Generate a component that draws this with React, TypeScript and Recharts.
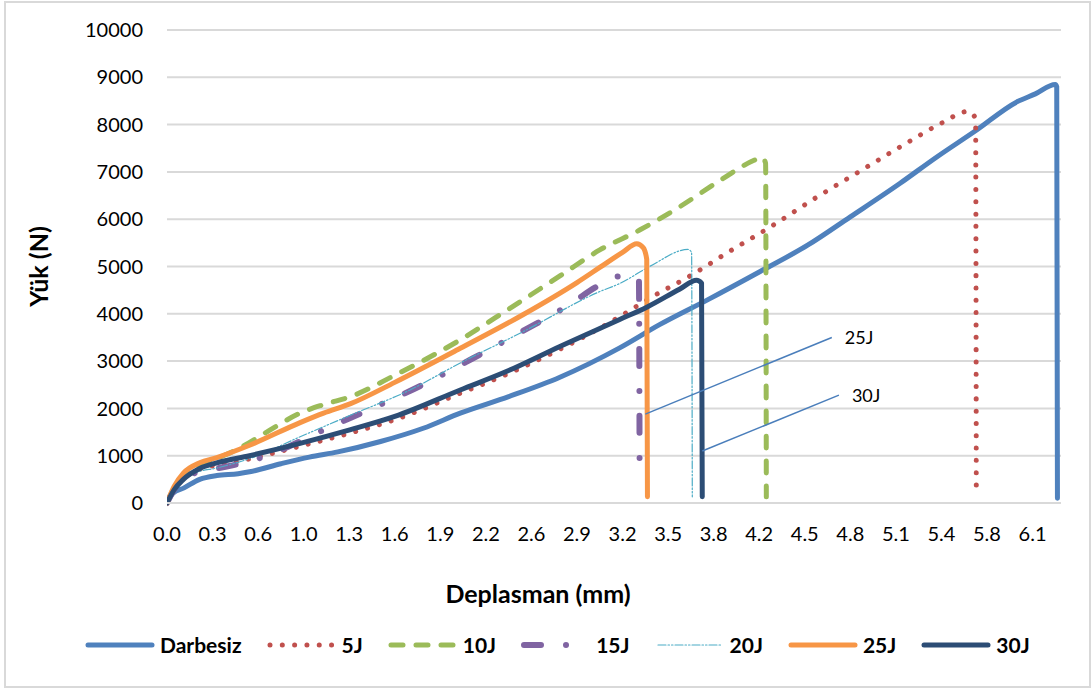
import React from "react";
import {
  LineChart, Line, XAxis, YAxis, CartesianGrid, ReferenceLine, ReferenceDot,
} from "recharts";

// Load-displacement readings [mm, N]
const darbesiz = [
  [0, 0], [0.04, 200], [0.12, 320], [0.23, 500], [0.35, 580], [0.5, 620], [0.58, 660],
  [0.8, 830], [1.0, 970], [1.2, 1080], [1.5, 1300], [1.8, 1580], [2.06, 1900],
  [2.4, 2250], [2.76, 2660], [3.18, 3280], [3.46, 3770], [3.8, 4300], [4.17, 4900],
  [4.5, 5450], [4.8, 6050], [5.15, 6760], [5.4, 7300], [5.68, 7870], [5.97, 8480],
  [6.1, 8650], [6.24, 8850], [6.25, 8800], [6.255, 100],
];
const j5 = [
  [0, 0], [0.05, 300], [0.1, 480], [0.2, 680], [0.3, 770], [0.5, 880], [0.7, 1020],
  [0.935, 1200], [1.29, 1480], [1.6, 1760], [2.06, 2320], [2.4, 2740], [2.76, 3250],
  [3.09, 3780], [3.42, 4380], [3.68, 4810], [3.93, 5280], [4.24, 5840], [4.54, 6420],
  [4.87, 7020], [5.19, 7600], [5.44, 8030], [5.63, 8280], [5.68, 8130], [5.685, 230],
];
const j10 = [
  [0, 0], [0.05, 320], [0.1, 530], [0.2, 760], [0.3, 880], [0.49, 1130], [0.7, 1500],
  [0.935, 1900], [1.1, 2080], [1.29, 2250], [1.6, 2700], [2.06, 3450], [2.4, 4100],
  [2.76, 4800], [3.04, 5350], [3.32, 5770], [3.6, 6260], [3.89, 6830], [4.12, 7240],
  [4.18, 7310], [4.205, 7180], [4.21, 130],
];
const j15 = [
  [0, 0], [0.05, 280], [0.1, 470], [0.2, 640], [0.35, 730], [0.6, 900], [0.86, 1200],
  [1.075, 1510], [1.44, 2000], [1.79, 2490], [2.15, 3060], [2.49, 3620], [2.84, 4220],
  [3.01, 4560], [3.17, 4790], [3.28, 4800], [3.315, 4720], [3.32, 450],
];
const j20 = [
  [0, 0], [0.05, 280], [0.1, 470], [0.2, 640], [0.35, 740], [0.6, 960], [0.935, 1400],
  [1.3, 1870], [1.7, 2380], [2.06, 2960], [2.5, 3620], [3.04, 4470], [3.18, 4640],
  [3.39, 5000], [3.66, 5360], [3.685, 5300], [3.69, 130],
];
const j25 = [
  [0, 0], [0.05, 350], [0.115, 630], [0.23, 850], [0.35, 960], [0.58, 1220],
  [0.935, 1700], [1.1, 1900], [1.29, 2100], [1.6, 2550], [2.06, 3270], [2.5, 3980],
  [2.88, 4660], [3.04, 4980], [3.2, 5300], [3.3, 5480], [3.345, 5400], [3.37, 5150],
  [3.375, 130],
];
const j30 = [
  [0, 0], [0.05, 280], [0.115, 500], [0.23, 730], [0.35, 850], [0.58, 1000],
  [0.935, 1260], [1.29, 1550], [1.6, 1830], [2.06, 2390], [2.4, 2800], [2.76, 3310],
  [3.18, 3880], [3.37, 4140], [3.6, 4520], [3.72, 4710], [3.755, 4650], [3.76, 130],
];

const xTicks = [0, 0.32, 0.64, 0.96, 1.28, 1.6, 1.92, 2.24, 2.56, 2.88, 3.2, 3.52, 3.84,
  4.16, 4.48, 4.8, 5.12, 5.44, 5.76, 6.08];
const yTicks = [0, 1000, 2000, 3000, 4000, 5000, 6000, 7000, 8000, 9000, 10000];

// callout lines pointing at the 25J / 30J drops
const callouts = [
  { label: "25J", from: [3.36, 1880], to: [4.67, 3500] },
  { label: "30J", from: [3.76, 1100], to: [4.72, 2280] },
];

const toPts = (rows: number[][]) => rows.map(([x, y]) => ({ x, y }));

const SERIES = [
  { name: "Darbesiz", rows: darbesiz, color: "#4F81BD", width: 5, dash: undefined },
  { name: "5J", rows: j5, color: "#C0504D", width: 5, dash: "0.01 12.3" },
  { name: "10J", rows: j10, color: "#9BBB59", width: 5, dash: "12 13" },
  { name: "15J", rows: j15, color: "#8064A2", width: 6, dash: "17 25 0.01 25" },
  { name: "20J", rows: j20, color: "#4BACC6", width: 1.2, dash: "8 2 1.5 2 1.5 2" },
  { name: "25J", rows: j25, color: "#F79646", width: 5, dash: undefined },
  { name: "30J", rows: j30, color: "#2C4D75", width: 5, dash: undefined },
];

const FONT = "Lato, 'Open Sans', sans-serif";
const TICK = { fill: "#000", fontSize: 20, fontFamily: FONT };

const XTitle = ({ viewBox }: any) => (
  <text x={viewBox.x + viewBox.width / 2 - 76} y={viewBox.y + 100} textAnchor="middle"
    fontFamily={FONT} fontWeight="bold" fontSize={25} fill="#000">
    Deplasman (mm)
  </text>
);

const YTitle = ({ viewBox }: any) => {
  const cx = 38;
  const cy = viewBox.y + viewBox.height / 2;
  return (
    <text x={cx} y={cy} transform={`rotate(-90 ${cx} ${cy})`} textAnchor="middle"
      dominantBaseline="central" fontFamily={FONT} fontWeight="bold" fontSize={25} fill="#000">
      Yük (N)
    </text>
  );
};

function LegendRow() {
  return (
    <div style={{
      position: "absolute", left: 84, top: 632, display: "flex", alignItems: "center",
      gap: 24, fontFamily: FONT, fontWeight: "bold", fontSize: 21, color: "#000",
    }}>
      {SERIES.map((s) => (
        <div key={s.name} style={{ display: "flex", alignItems: "center" }}>
          <svg width={72} height={14}>
            <line x1={4} y1={7} x2={68} y2={7} stroke={s.color} strokeWidth={s.width}
              strokeDasharray={s.dash} strokeLinecap="round" />
          </svg>
          <span style={{ marginLeft: 4 }}>{s.name}</span>
        </div>
      ))}
    </div>
  );
}

export default function App() {
  return (
    <div style={{ position: "absolute", left: 0, top: 0, width: 1091, height: 688, background: "#fff" }}>
      <LineChart width={1091} height={688} margin={{ top: 30, right: 30, left: 0, bottom: 0 }}>
        <CartesianGrid vertical={false} stroke="#D9D9D9" strokeWidth={2} />
        <XAxis type="number" dataKey="x" domain={[0, 6.28]} ticks={xTicks} interval={0}
          allowDataOverflow tickFormatter={(v: number) => v.toFixed(1)} height={185}
          tick={TICK} tickLine={false} tickMargin={18}
          axisLine={{ stroke: "#D9D9D9", strokeWidth: 2 }} label={<XTitle />} />
        <YAxis type="number" domain={[0, 10000]} ticks={yTicks} interval={0} width={167}
          tick={TICK} tickLine={false} axisLine={false} tickMargin={18} label={<YTitle />} />
        {SERIES.map((s) => (
          <Line key={s.name} data={toPts(s.rows)} dataKey="y" name={s.name} type="monotone"
            stroke={s.color} strokeWidth={s.width} strokeDasharray={s.dash}
            strokeLinecap="round" strokeLinejoin="round" dot={false} activeDot={false}
            isAnimationActive={false} />
        ))}
        {callouts.map((c) => (
          <ReferenceLine key={c.label} segment={[{ x: c.from[0], y: c.from[1] }, { x: c.to[0], y: c.to[1] }]}
            stroke="#4A7EBB" strokeWidth={1.5} ifOverflow="visible" />
        ))}
        {callouts.map((c) => (
          <ReferenceDot key={c.label + "t"} x={c.to[0]} y={c.to[1]} r={0} stroke="none" fill="none"
            ifOverflow="visible"
            label={{ value: c.label, position: "right", offset: 13, fill: "#000", fontSize: 18, fontFamily: FONT }} />
        ))}
      </LineChart>
      <LegendRow />
      <div style={{
        position: "absolute", left: 4, top: 1, width: 1083, height: 683,
        border: "2px solid #D9D9D9", pointerEvents: "none",
      }} />
    </div>
  );
}
